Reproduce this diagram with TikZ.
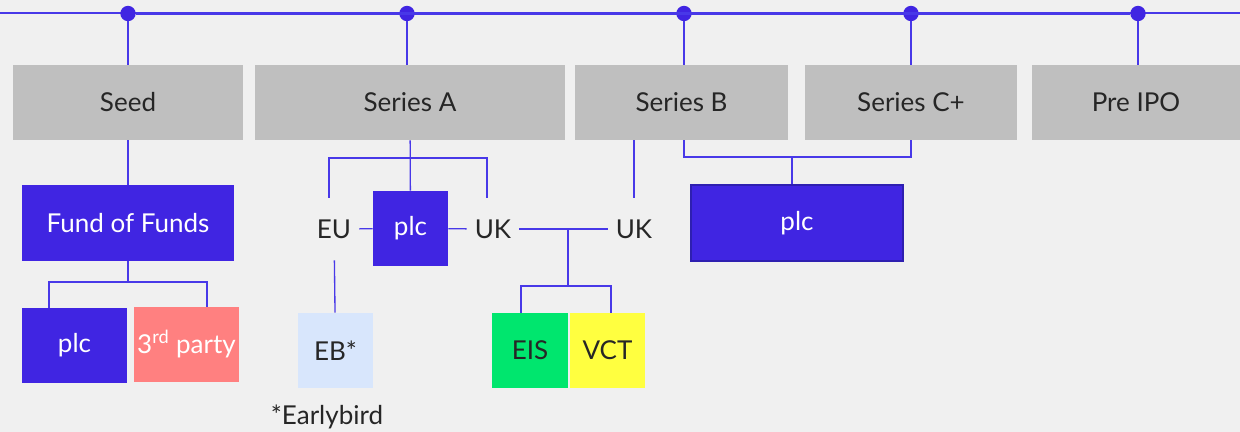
\documentclass[tikz,border=0pt]{standalone}
\usepackage{fontspec}
\setmainfont{Lato}
\usetikzlibrary{positioning, calc}
\definecolor{roundblue}{RGB}{64, 37, 226}
\definecolor{linkblue}{RGB}{72, 56, 232}
\definecolor{stagegray}{RGB}{191, 191, 191}
\definecolor{pagegray}{RGB}{240, 240, 240}
\definecolor{partysalmon}{RGB}{255, 128, 128}
\definecolor{earlyblue}{RGB}{216, 230, 252}
\definecolor{eisgreen}{RGB}{0, 230, 110}
\definecolor{vctyellow}{RGB}{255, 255, 64}
\definecolor{plcedge}{RGB}{46, 31, 176}

\begin{document}
\begin{tikzpicture}[x=0.75pt, y=-0.75pt,
  font=\fontsize{19.5}{22}\selectfont,
  stage/.style={fill=stagegray, minimum height=56.25pt, inner sep=0pt, text=black!85},
  fund/.style={fill=roundblue, text=white, inner sep=0pt, minimum height=56.25pt},
  market/.style={inner xsep=6pt, inner ysep=0pt, minimum height=46.5pt, text=black!85},
  link/.style={draw=linkblue, line width=1pt},
  dot/.style={circle, fill=roundblue, minimum size=11.5pt, inner sep=0pt}]

  \fill[pagegray] (0,0) rectangle (1240,432);
  \useasboundingbox (0,0) rectangle (1240,432);

  % Timeline with the five rounds
  \draw[link] (0,13) -- (1240,13);
  \node[dot] (d1) at (128,13.5) {};
  \node[dot] (d2) at (407,13.5) {};
  \node[dot] (d3) at (684,13.5) {};
  \node[dot] (d4) at (911,13.5) {};
  \node[dot] (d5) at (1138,13.5) {};
  \draw[linkblue, line width=2pt] (d1) -- (d5);

  \node[stage, minimum width=172.5pt] (seed) at (128,102.5) {Seed};
  \node[stage, minimum width=232.5pt] (seriesA) at (410,102.5) {Series A};
  \node[stage, minimum width=159.75pt] (seriesB) at (681.5,102.5) {\raisebox{-2pt}{Series B}};
  \node[stage, minimum width=159pt] (seriesC) at (911,102.5) {Series C+};
  \node[stage, minimum width=156pt] (preipo) at (1136,102.5) {Pre IPO};

  \draw[link] (d1) -- (seed);
  \draw[link] (d2) -- (d2 |- seriesA.north);
  \draw[link] (d3) -- (d3 |- seriesB.north);
  \draw[link] (d4) -- (seriesC);
  \draw[link] (d5) -- (d5 |- preipo.north);

  % Seed: fund of funds
  \node[fund, minimum width=159pt, minimum height=57pt] (fof) at (128,223) {Fund of Funds};
  \node[fund, minimum width=78.75pt] (fofplc) at (74.5,345.5) {\raisebox{-2pt}{plc}};
  \node[fund, fill=partysalmon, minimum width=78.75pt] (third) at (186.5,344.5) {3\textsuperscript{rd} party};
  \coordinate (fofjoin) at (128,282);
  \draw[link] (seed) -- (fof);
  \draw[link] (fof) -- (fofjoin);
  \draw[link] (fofplc.north -| 49,0) |- (fofjoin) -| (third.north -| 207,0);

  % Series A: plc with EU and UK sides
  \node[fund] (aplc) at (410.5,228.5) [minimum width=56.25pt] {plc};
  \node[market] (eu) at (334,229) {EU};
  \node[market] (uka) at (493,229) {UK};
  \node[market] (ukb) at (634,229) {UK};
  \coordinate (ajoin) at (410,158);
  \draw[link] (seriesA) -- (aplc);
  \draw[link] (eu.north -| 329,0) |- (ajoin) -| (uka.north -| 487,0);
  \draw[link] (eu) -- (aplc);
  \draw[link] (aplc) -- (uka);

  \node[fund, fill=earlyblue, text=black!85, minimum width=56.25pt] (eb) at (335.5,350.5) {EB*};
  \node[text=black!85] (earlybird) at (327,417) {*Earlybird};
  \draw[link] (eu) -- (eb);

  % UK schemes
  \node[fund, fill=eisgreen, text=black!85, minimum width=57pt] (eis) at (530,350.5) {EIS};
  \node[fund, fill=vctyellow, text=black!85, minimum width=56.25pt] (vct) at (607.5,350.5) {\raisebox{-2pt}{VCT}};
  \coordinate (ukjoin) at (568,229);
  \coordinate (taxjoin) at (568,286);
  \draw[link] (uka) -- (ukb);
  \draw[link] (ukjoin) -- (taxjoin);
  \draw[link] (eis.north -| 521,0) |- (taxjoin) -| (vct.north -| 611,0);
  \draw[link] (seriesB.south -| ukb) -- (ukb);

  % Series B and C+: plc
  \node[fund, draw=plcedge, line width=1.5pt, minimum width=159pt, minimum height=57pt] (bcplc) at (797,223) {plc};
  \coordinate (bcjoin) at (792,157);
  \draw[link] (seriesB.south -| 684,0) |- (bcjoin) -| (seriesC.south);
  \draw[link] (bcjoin) -- (bcjoin |- bcplc.north);
\end{tikzpicture}
\end{document}
